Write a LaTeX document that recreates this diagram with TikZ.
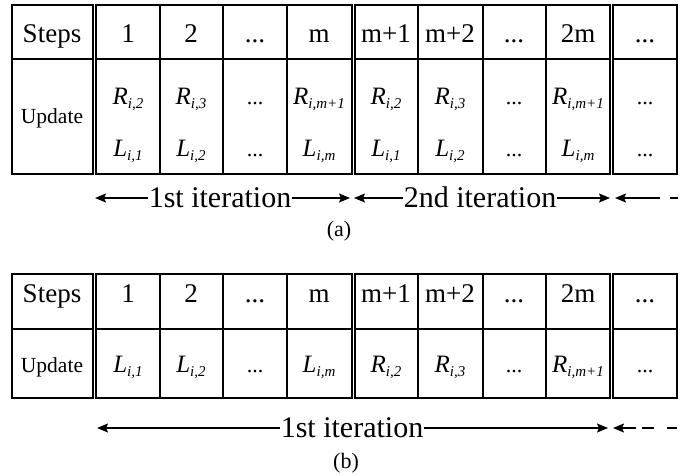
\documentclass[tikz,border=0pt]{standalone}
\usepackage{fontspec}
\setmainfont{Liberation Serif}
\usetikzlibrary{arrows.meta}

\newcommand{\vsub}[2]{\textit{#1}\raisebox{-4pt}{\fontsize{15}{17}\selectfont\itshape #2}}
\newcommand{\ddd}{...}

\tikzset{
  tline/.style={line width=1.6pt},
  hdr/.style={anchor=base, inner sep=0pt, font=\fontsize{27}{31}\selectfont},
  upd/.style={anchor=base, inner sep=0pt, font=\fontsize{21.5}{25}\selectfont},
  mth/.style={anchor=base, inner sep=0pt, font=\fontsize{25}{29}\selectfont},
  dts/.style={anchor=base, inner sep=0pt, font=\fontsize{22}{26}\selectfont},
  itr/.style={anchor=base, inner sep=1pt, font=\fontsize{30}{34}\selectfont},
  lbl/.style={inner sep=0pt, font=\fontsize{22}{26}\selectfont},
  arr/.style={line width=1.5pt, -{Stealth[length=11pt, width=9pt, inset=2pt]}}
}

\begin{document}
\begin{tikzpicture}[x=1pt, y=1pt]
\useasboundingbox (0,0) rectangle (696,-475);

%% === TABELLA (a): R e L nella stessa colonna ===
\foreach \a/\b in {12/93,96/352,355/610,613/677} {
    \draw[tline] (\a,-5) rectangle (\b,-174);
    \draw[tline] (\a,-59) -- (\b,-59);
}
\foreach \c in {160,223,287,418,483,546} \draw[tline] (\c,-5)--(\c,-174);

%% Intestazione
\foreach \x/\t [count=\i] in {52/Steps,128/1,191/2,255/\ddd,319/m,386/m+1,450/m+2,514/\ddd,578/2m,645/\ddd}
    \node[hdr] (ha\i) at (\x,-42) {\t};

\node[upd] (ua) at (52,-123) {Update};

%% Riga di aggiornamento: R sopra, L sotto
\foreach \x/\r/\l [count=\i] in {128/2/1,191/3/2,319/m+1/m,386/2/1,450/3/2,578/m+1/m} {
    \node[mth] (ra\i) at (\x,-104) {\vsub{R}{i,\r}};
    \node[mth] (la\i) at (\x,-156) {\vsub{L}{i,\l}};
}
\foreach \x [count=\i] in {255,514,645} {
    \node[dts] (pa\i) at (\x,-104) {\ddd};
    \node[dts] (qa\i) at (\x,-156) {\ddd};
}

%% Iterazioni
\node[itr] (it1) at (220,-207) {1st iteration};
\node[itr] (it2) at (480,-207) {2nd iteration};
\coordinate (a1l) at (95,-198);  \coordinate (a1r) at (350,-198);
\coordinate (a2l) at (354,-198); \coordinate (a2r) at (610,-198);
\coordinate (a3l) at (615,-198); \coordinate (a3r) at (678,-198);
\draw[arr] (it1.west |- a1l) -- (a1l);
\draw[arr] (it1.east |- a1r) -- (a1r);
\draw[arr] (it2.west |- a2l) -- (a2l);
\draw[arr] (it2.east |- a2r) -- (a2r);
\draw[arr, dash pattern=on 8pt off 10pt on 60pt off 0pt] (a3r) -- (a3l);

\node[lbl] (capa) at (339,-231) {(a)};

%% === TABELLA (b): prima tutti gli L, poi tutti gli R ===
\foreach \a/\b in {12/93,96/352,355/610,613/677} {
    \draw[tline] (\a,-274) rectangle (\b,-398);
    \draw[tline] (\a,-329) -- (\b,-329);
}
\foreach \c in {160,223,287,418,483,546} \draw[tline] (\c,-274)--(\c,-398);

\foreach \x/\t [count=\i] in {52/Steps,128/1,191/2,255/\ddd,319/m,386/m+1,450/m+2,514/\ddd,578/2m,645/\ddd}
    \node[hdr] (hb\i) at (\x,-302) {\t};

\node[upd] (ub) at (52,-372) {Update};

\foreach \x/\l [count=\i] in {128/1,191/2,319/m}
    \node[mth] (lb\i) at (\x,-372) {\vsub{L}{i,\l}};
\foreach \x/\r [count=\i] in {386/2,450/3,578/m+1}
    \node[mth] (rb\i) at (\x,-372) {\vsub{R}{i,\r}};
\foreach \x [count=\i] in {255,514,645}
    \node[dts] (pb\i) at (\x,-372) {\ddd};

\node[itr] (it3) at (352,-437) {1st iteration};
\coordinate (b1l) at (97,-428);  \coordinate (b1r) at (608,-428);
\coordinate (b2l) at (613,-428); \coordinate (b2r) at (677,-428);
\draw[arr] (it3.west |- b1l) -- (b1l);
\draw[arr] (it3.east |- b1r) -- (b1r);
\draw[arr, dash pattern=on 10pt off 13pt on 12pt off 6pt on 30pt off 0pt] (b2r) -- (b2l);

\node[lbl] (capb) at (346,-463) {(b)};

\end{tikzpicture}
\end{document}
